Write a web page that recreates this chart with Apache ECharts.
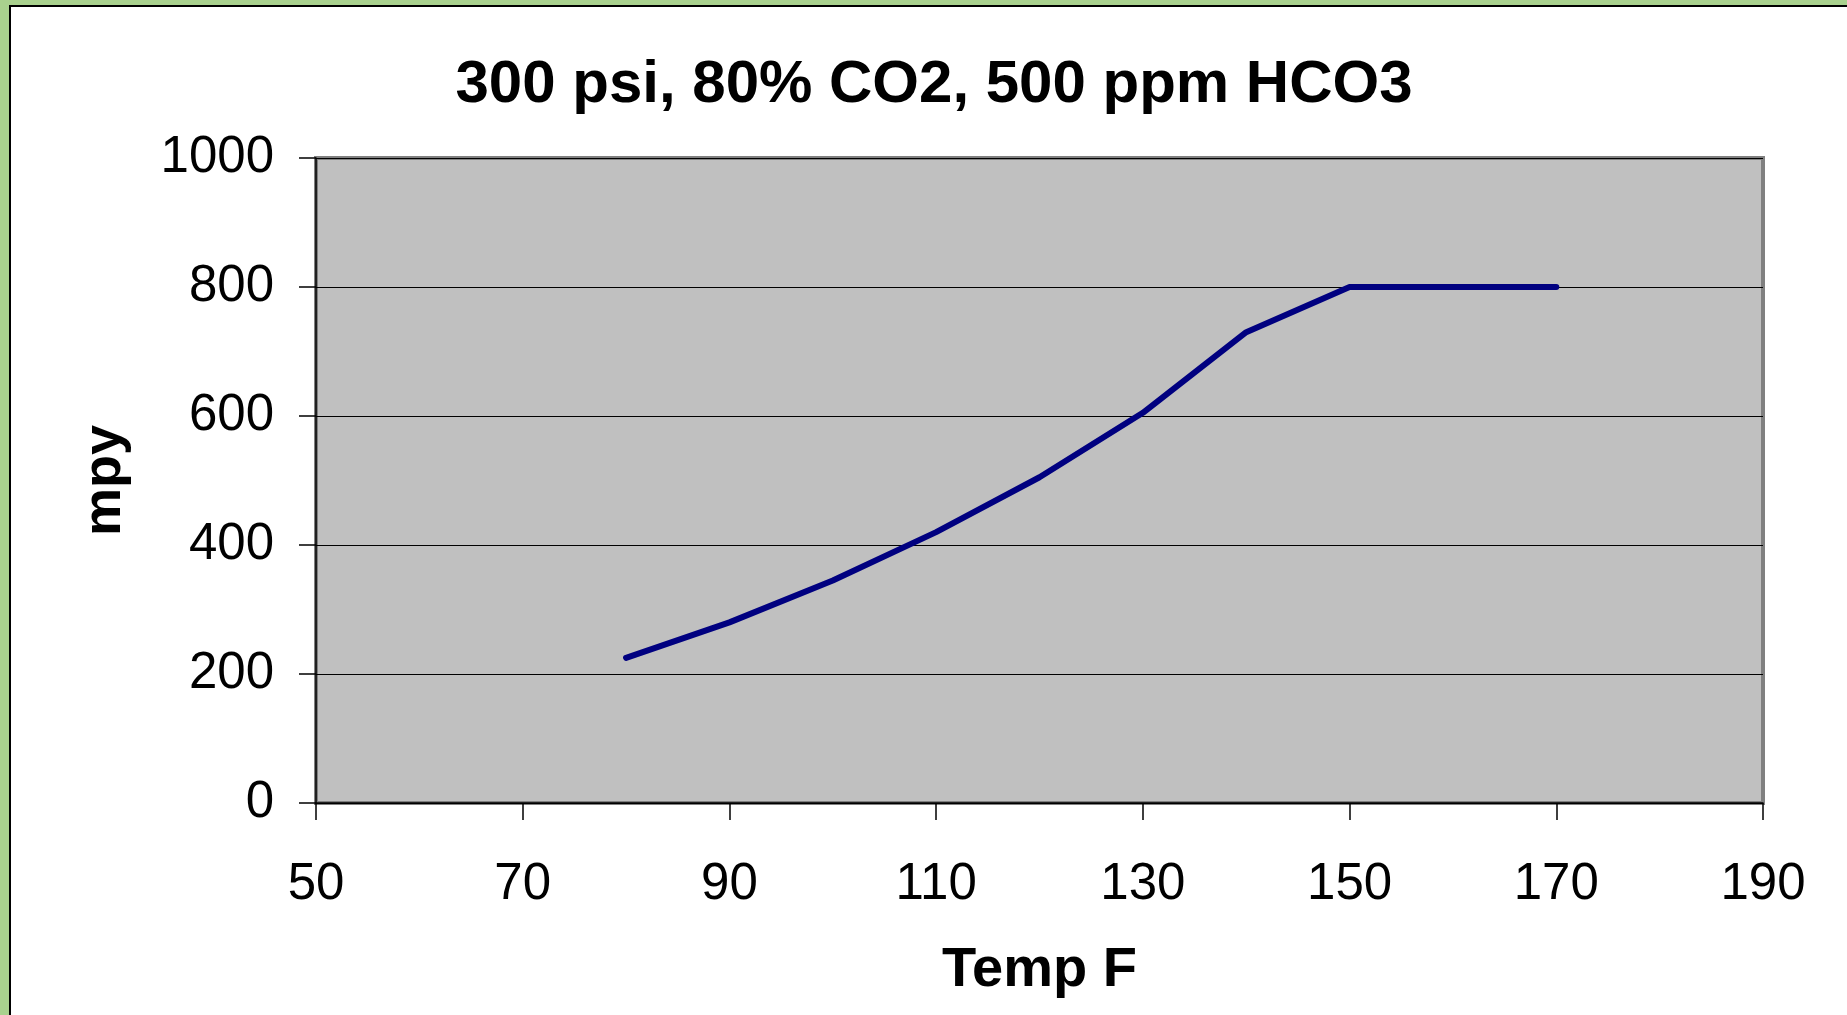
<!DOCTYPE html>
<html>
<head>
<meta charset="utf-8">
<script src="https://cdn.jsdelivr.net/npm/echarts@6/dist/echarts.min.js"></script>
<style>
  html, body { margin: 0; padding: 0; background: #a9d18e; overflow: hidden; }
  #frame { position: absolute; left: 9px; top: 5px; width: 1860px; height: 1030px;
           background: #fff; border-left: 2px solid #000; border-top: 2px solid #000; }
  #chart { position: absolute; left: 0; top: 0; width: 1847px; height: 1015px; }
</style>
</head>
<body>
<div id="frame"></div>
<div id="chart"></div>
<script type="text/javascript">
// 数据
var titleText = '300 psi, 80% CO2, 500 ppm HCO3';
var temps = [80, 90, 100, 110, 120, 130, 140, 150, 160, 170];   // Temp F
var mpy   = [225, 280, 345, 420, 505, 605, 730, 800, 800, 800];  // mpy
var xTicks = { min: 50, max: 190, step: 20 };
var yTicks = { min: 0, max: 1000, step: 200 };

var points = [];
for (var i = 0; i < temps.length; i++) {
  points.push([temps[i], mpy[i]]);
}

var chart = echarts.init(document.getElementById('chart'));
var font = 'Liberation Sans, Arial, sans-serif';

var option = {
  animation: false,
  backgroundColor: 'transparent',
  title: {
    text: titleText,
    left: 934,
    textAlign: 'center',
    top: 55,
    padding: 0,
    textStyle: { fontFamily: font, fontSize: 60, fontWeight: 'bold', color: '#000' }
  },
  grid: {
    left: 316, top: 158, right: 84, bottom: 212,
    show: true,
    backgroundColor: '#c0c0c0',
    borderColor: '#808080',
    borderWidth: 4
  },
  xAxis: {
    type: 'value',
    min: xTicks.min, max: xTicks.max, interval: xTicks.step,
    name: 'Temp F',
    nameLocation: 'middle',
    nameGap: 140,
    nameTextStyle: { fontFamily: font, fontSize: 56, fontWeight: 'bold', color: '#000' },
    axisLine: { show: true, lineStyle: { color: '#000', width: 1.5 } },
    axisTick: { show: true, inside: false, length: 17, lineStyle: { color: '#000', width: 1.5 } },
    axisLabel: { margin: 56, fontFamily: font, fontSize: 51, color: '#000' },
    splitLine: { show: false }
  },
  yAxis: {
    type: 'value',
    min: yTicks.min, max: yTicks.max, interval: yTicks.step,
    name: 'mpy',
    nameLocation: 'middle',
    nameGap: 184,
    nameTextStyle: { fontFamily: font, fontSize: 54, fontWeight: 'bold', color: '#000' },
    axisLine: { show: true, lineStyle: { color: '#000', width: 1.5 } },
    axisTick: { show: true, inside: false, length: 17, lineStyle: { color: '#000', width: 1.5 } },
    axisLabel: {
      margin: 42, fontFamily: font, fontSize: 51, color: '#000',
      formatter: function (v) { return String(v); }
    },
    splitLine: { show: true, lineStyle: { color: '#000', width: 1.2 } }
  },
  series: [
    {
      type: 'line',
      data: points,
      showSymbol: false,
      symbol: 'none',
      lineStyle: { color: '#000080', width: 6, cap: 'round', join: 'round' },
      z: 5
    }
  ]
};

chart.setOption(option);
</script>
</body>
</html>
